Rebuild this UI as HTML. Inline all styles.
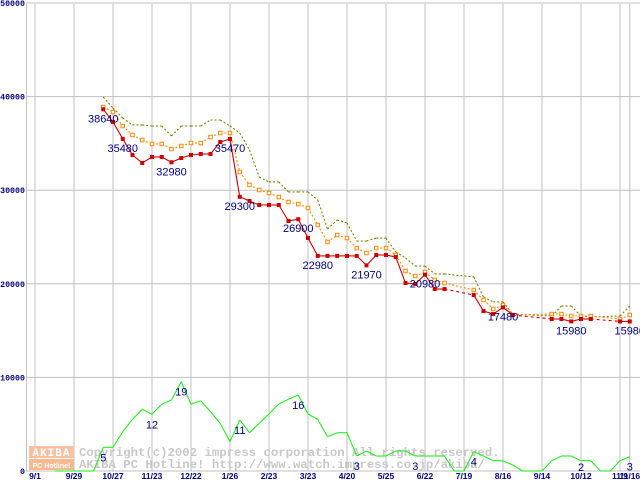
<!DOCTYPE html>
<html><head><meta charset="utf-8"><style>
body{margin:0;background:#fff;}
svg{display:block;font-family:"Liberation Sans",sans-serif;}
</style></head><body>
<svg id="chart" width="640" height="480" viewBox="0 0 640 480" xmlns="http://www.w3.org/2000/svg">
<rect width="640" height="480" fill="#fff"/>
<g id="grid"></g>
<g id="watermark">
 <rect x="29" y="446" width="45" height="12" fill="#f8c0a0"/>
 <rect x="29" y="459" width="45" height="11" fill="#f8b890"/>
 <text x="51.5" y="456" text-anchor="middle" font-size="11" font-weight="bold" fill="#fff" font-family="Liberation Mono,monospace" letter-spacing="1">AKIBA</text>
 <text x="51.5" y="468" text-anchor="middle" font-size="7" font-weight="bold" fill="#fff">PC Hotline!</text>
 <text x="79" y="456" font-size="12.3" font-weight="bold" fill="#c8c8c8" font-family="Liberation Mono,monospace">Copyright(c)2002 impress corporation All rights reserved.</text>
 <text x="79" y="468" font-size="12.3" font-weight="bold" fill="#c8c8c8" font-family="Liberation Mono,monospace">AKIBA PC Hotline!  http://www.watch.impress.co.jp/akiba/</text>
</g>
<g id="series"></g>
<g id="labels"></g>
</svg>
<script>
const yTicks=[0,10000,20000,30000,40000,50000];
const xLabels=["9/1","9/29","10/27","11/23","12/22","1/26","2/23","3/23","4/20","5/25","6/22","7/19","8/16","9/14","10/12","11/9"];
const lastLabel="11/16";
const N=null;
const minPrice=[N,N,N,N,N,N,N,38640,37290,35480,33760,32910,33550,33550,32980,33440,33760,33870,33870,35150,35470,29300,28850,28420,28420,28420,26710,26900,24890,22980,22980,22980,22980,22980,21970,23080,23080,22860,20090,19980,20980,19440,19440,N,N,18800,17090,16770,17480,16670,N,N,N,16240,16240,15980,16240,16240,N,N,15980,15980];
const avgPrice=[N,N,N,N,N,N,N,38890,38350,36860,35900,35360,34940,34940,34400,34720,35040,35040,35680,36110,36110,31940,30560,30020,29700,29270,28740,28520,28100,26280,24470,25210,24890,23820,23290,23820,23820,23080,21370,20830,21260,20410,20090,N,N,19340,18270,17310,17730,16670,N,N,N,16770,16770,16560,16560,16560,N,N,16240,16670];
const maxPrice=[N,N,N,N,N,N,N,39960,38780,37710,36970,36970,36860,36860,35790,36860,36860,36860,37500,37500,36860,36110,34290,31410,30880,30880,29810,29810,29810,28950,25850,26820,26500,24570,24570,24890,24890,23400,22760,21900,21900,21050,21050,N,N,20730,18590,18060,18060,16770,N,N,N,16560,17630,17630,16560,16450,N,N,16560,17630];
const shopCount=[0,0,0,0,0,2530,2530,4200,5520,6590,6060,7130,7590,9540,7130,7510,6340,5090,3130,5450,4090,5090,6090,7160,7660,8120,6090,5520,3670,4090,4090,1600,2140,1600,1600,2140,2140,1600,1600,1600,1600,0,0,2070,1600,1100,1100,640,0,0,0,1100,1600,1600,1100,1100,0,0,1100,1530];
const countOffset=2;
const priceLabelIdx=[7,9,14,20,21,27,29,34,40,48,55,61];
const countLabelIdx=[7,12,15,21,27,33,39,45,56,61];
const countLabelText=["5","12","19","11","16","3","3","4","2","3"];

const NS="http://www.w3.org/2000/svg";
const X0=35,STEP=9.75,Y0=471,SC=0.00936;
const X=i=>X0+STEP*i;
const Y=v=>Y0-v*SC;
function mk(tag,attrs,parent){const e=document.createElementNS(NS,tag);for(const k in attrs)e.setAttribute(k,attrs[k]);parent.appendChild(e);return e;}
const grid=document.getElementById('grid'),ser=document.getElementById('series'),lab=document.getElementById('labels');
yTicks.forEach((t,k)=>{
  const l=mk('line',{x1:26,x2:640,y1:Y(t),y2:Y(t),stroke:'#c0c0c0','stroke-width':1},grid);
  
  
  const tx=mk('text',{x:25,y:Y(t)+3,'text-anchor':'end','font-size':8.3,'font-weight':'bold',fill:'#000080','font-family':'Liberation Mono,monospace'},grid);
  tx.textContent=String(t);
  
  
});
xLabels.forEach((s,k)=>{
  const x=X(k*4);
  const l=mk('line',{x1:x,x2:x,y1:4,y2:471,stroke:'#c0c0c0','stroke-width':1},grid);
  
  
  const tx=mk('text',{x:x,y:479,'text-anchor':'middle','font-size':8.5,'font-weight':'bold',fill:'#000080'},grid);
  tx.textContent=s;
  
  
});
{
  const x=X(61);
  const l=mk('line',{x1:x,x2:x,y1:4,y2:471,stroke:'#c0c0c0'},grid);
  
  
  const tx=mk('text',{x:x,y:479,'text-anchor':'middle','font-size':8.5,'font-weight':'bold',fill:'#000080'},grid);
  tx.textContent=lastLabel;
  
  
}
const ax=mk('line',{x1:26.5,x2:26.5,y1:4,y2:471,stroke:'#c0c0c0'},grid);



function polyline(arr,offset,style,name,bridgeDash){
  const pts=[];
  arr.forEach((v,i)=>{if(v!==null)pts.push([X(i+offset),Y(v),i]);});
  for(let k=0;k<pts.length-1;k++){
    const a=pts[k],b=pts[k+1];
    const gap=b[2]-a[2]>1;
    const l=mk('line',Object.assign({x1:a[0],y1:a[1],x2:b[0],y2:b[1],fill:'none'},style),ser);
    if(gap&&bridgeDash)l.setAttribute('stroke-dasharray',bridgeDash);
    
    
  }
  return pts;
}
polyline(shopCount,countOffset,{stroke:'#22ee22','stroke-width':1.1},'shop-count-line');
polyline(maxPrice,0,{stroke:'#808000','stroke-width':1.1,'stroke-dasharray':'2 2'},'max-price-line');
const ap=polyline(avgPrice,0,{stroke:'#ff8800','stroke-width':1.1,'stroke-dasharray':'2 2'},'avg-price-line');
ap.forEach(p=>{
  const r=mk('rect',{x:p[0]-1.75,y:p[1]-1.75,width:3.5,height:3.5,fill:'#fff',stroke:'#ff8800','stroke-width':1},ser);
  
  
});
const mp=polyline(minPrice,0,{stroke:'#cc0000','stroke-width':1.1},'min-price-line','3 3');
mp.forEach(p=>{
  const r=mk('rect',{x:p[0]-2,y:p[1]-2,width:4,height:4,fill:'#cc0000'},ser);
  
  
});
priceLabelIdx.forEach(i=>{
  const v=minPrice[i];
  const tx=mk('text',{x:X(i),y:Y(v)+13,'text-anchor':'middle','font-size':11,fill:'#000080'},lab);
  tx.textContent=String(v);
  
  
});
countLabelIdx.forEach((i,k)=>{
  const v=shopCount[i-countOffset];
  const y=Math.min(Y(v)+14,471);
  const tx=mk('text',{x:X(i),y:y,'text-anchor':'middle','font-size':11,fill:'#000080'},lab);
  tx.textContent=countLabelText[k];
  
  
});
</script>
</body></html>
